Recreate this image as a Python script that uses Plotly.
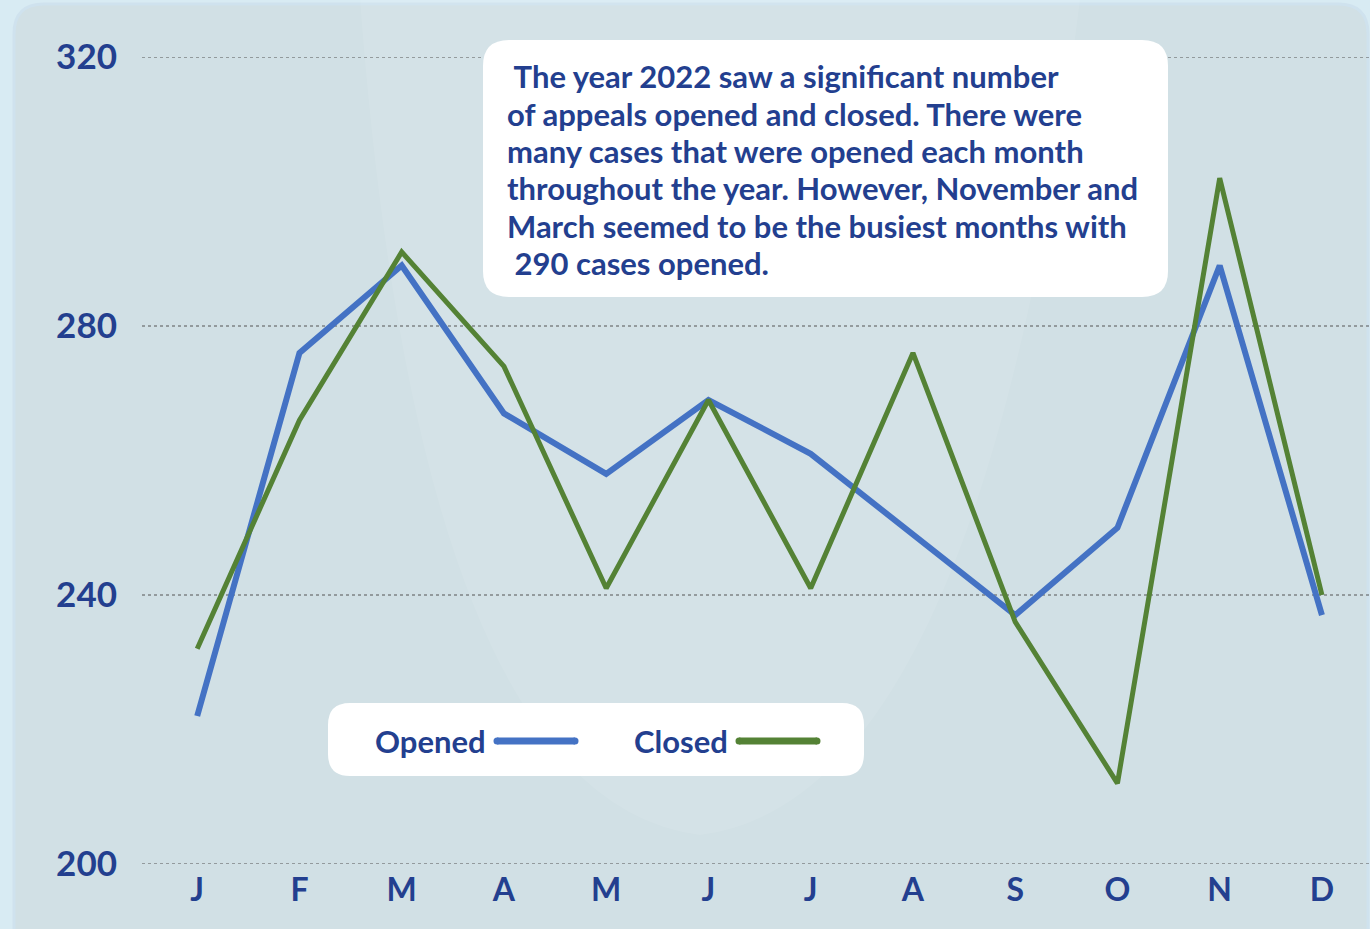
import plotly.graph_objects as go

months = ["J", "F", "M", "A", "M", "J", "J", "A", "S", "O", "N", "D"]
opened = [222, 276, 289, 267, 258, 269, 261, 249, 237, 250, 289, 237]
closed = [232, 266, 291, 274, 241, 269, 241, 276, 236, 212, 302, 240]
y_ticks = [200, 240, 280, 320]
note_lines = [
    "\u00a0The year 2022 saw a significant number",
    "of appeals opened and closed. There were",
    "many cases that were opened each month",
    "throughout the year. However, November and",
    "March seemed to be the busiest months with",
    "\u00a0290 cases opened.",
]

W, H = 1370, 929
L, R, T, B = 142, 0, 57, 65
PW, PH = W - L - R, H - T - B

def px(x):
    return (x - L) / PW

def py(y):
    return (H - B - y) / PH

def rrect(x0, y0, x1, y1, r):
    pts = [
        f"M{px(x0 + r)},{py(y0)}",
        f"L{px(x1 - r)},{py(y0)}",
        f"Q{px(x1)},{py(y0)} {px(x1)},{py(y0 + r)}",
        f"L{px(x1)},{py(y1 - r)}",
        f"Q{px(x1)},{py(y1)} {px(x1 - r)},{py(y1)}",
        f"L{px(x0 + r)},{py(y1)}",
        f"Q{px(x0)},{py(y1)} {px(x0)},{py(y1 - r)}",
        f"L{px(x0)},{py(y0 + r)}",
        f"Q{px(x0)},{py(y0)} {px(x0 + r)},{py(y0)}",
        "Z",
    ]
    return " ".join(pts)

TXT = "#233f8f"
FONT = "Lato"
BLUE = "#4472c4"
GREEN = "#548235"

x_idx = list(range(len(months)))

fig = go.Figure()
fig.add_trace(go.Scatter(x=x_idx, y=opened, mode="lines", name="Opened",
                         line=dict(color=BLUE, width=6)))
fig.add_trace(go.Scatter(x=x_idx, y=closed, mode="lines", name="Closed",
                         line=dict(color=GREEN, width=5)))

shapes = [
    # panel
    dict(type="path", xref="paper", yref="paper", path=rrect(14, 4, 1368, 960, 30),
         fillcolor="#d1e0e5", line=dict(color="#cfe2ee", width=3), layer="below"),
    # subtle lighter central sheen
    dict(type="path", xref="paper", yref="paper",
         path=f"M{px(360)},{py(0)} Q{px(420)},{py(800)} {px(700)},{py(835)} "
              f"Q{px(980)},{py(800)} {px(1080)},{py(0)} Z",
         fillcolor="rgba(255,255,255,0.08)", line=dict(width=0), layer="below"),
]
# gridlines
for v in y_ticks:
    shapes.append(dict(type="line", xref="paper", yref="y", x0=0, x1=1, y0=v, y1=v,
                       line=dict(color="#555555", width=1, dash="dot"), layer="below"))
shapes += [
    # text box
    dict(type="path", xref="paper", yref="paper", path=rrect(483, 40, 1168, 297, 26),
         fillcolor="white", line=dict(width=0), layer="above"),
    # legend box
    dict(type="path", xref="paper", yref="paper", path=rrect(328, 703, 864, 776, 22),
         fillcolor="white", line=dict(width=0), layer="above"),
]
for (xa, xb, col) in [(497, 575, BLUE), (739, 817, GREEN)]:
    shapes.append(dict(type="line", xref="paper", yref="paper", x0=px(xa), x1=px(xb),
                       y0=py(741), y1=py(741), line=dict(color=col, width=7), layer="above"))
    for xc in (xa, xb):
        shapes.append(dict(type="circle", xref="paper", yref="paper",
                           x0=px(xc - 3.5), x1=px(xc + 3.5), y0=py(744.5), y1=py(737.5),
                           fillcolor=col, line=dict(width=0), layer="above"))

annotations = []
line_y = [77, 115, 152, 189, 227, 264]
for txt, yy in zip(note_lines, line_y):
    annotations.append(dict(xref="paper", yref="paper", x=px(505), y=py(yy - 1),
                            xanchor="left", yanchor="middle", text=txt, showarrow=False,
                            font=dict(family=FONT, size=31, color=TXT, weight="bold")))
annotations += [
    dict(xref="paper", yref="paper", x=px(488), y=py(741), xanchor="right", yanchor="middle",
         text="Opened", showarrow=False, font=dict(family=FONT, size=31, color=TXT, weight="bold")),
    dict(xref="paper", yref="paper", x=px(730), y=py(741), xanchor="right", yanchor="middle",
         text="Closed", showarrow=False, font=dict(family=FONT, size=31, color=TXT, weight="bold")),
]

fig.update_layout(
    width=W, height=H,
    margin=dict(l=L, r=R, t=T, b=B),
    paper_bgcolor="#d8ebf3",
    plot_bgcolor="rgba(0,0,0,0)",
    showlegend=False,
    shapes=shapes,
    annotations=annotations,
    xaxis=dict(
        tickmode="array", tickvals=x_idx, ticktext=months,
        range=[-0.54, 11.47], showgrid=False, zeroline=False, showline=False,
        tickfont=dict(family=FONT, size=32, color=TXT, weight="bold"),
        ticklabelstandoff=4,
    ),
    yaxis=dict(
        tickmode="array", tickvals=y_ticks,
        range=[200, 320], showgrid=False, zeroline=False, showline=False,
        tickfont=dict(family=FONT, size=35, color=TXT, weight="bold"),
        ticklabelstandoff=24,
    ),
)

fig.write_html(
    "out.html",
    config={"displayModeBar": False},
    post_script="document.body.style.margin='0';document.body.style.overflow='hidden';"
                "document.body.style.background='#d8ebf3';",
)
